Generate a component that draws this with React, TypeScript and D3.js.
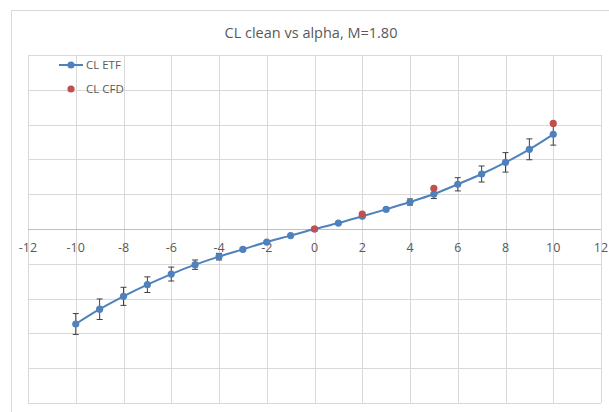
import React from "react";
import * as d3 from "d3";

const alpha = [-10, -9, -8, -7, -6, -5, -4, -3, -2, -1, 0, 1, 2, 3, 4, 5, 6, 7, 8, 9, 10];
const clEtf = [-0.546, -0.461, -0.387, -0.32, -0.259, -0.205, -0.159, -0.117, -0.075, -0.038, 0, 0.034, 0.073, 0.113, 0.155, 0.201, 0.257, 0.316, 0.383, 0.458, 0.544];
const clEtfErr = [0.06, 0.059, 0.052, 0.045, 0.04, 0.027, 0.019, 0.01, 0.005, 0.003, 0, 0.003, 0.005, 0.01, 0.018, 0.026, 0.038, 0.046, 0.056, 0.06, 0.062];
const cfdAlpha = [0, 2, 5, 10];
const clCfd = [0, 0.086, 0.234, 0.607];
const xTicks = [-12, -10, -8, -6, -4, -2, 0, 2, 4, 6, 8, 10, 12];
const yTicks = [-1, -0.8, -0.6, -0.4, -0.2, 0, 0.2, 0.4, 0.6, 0.8, 1];
const title = "CL clean vs alpha, M=1.80";
const seriesNames = ["CL ETF", "CL CFD"];

const W = 609;
const H = 412;
const plot = { left: 28, right: 601, top: 55, bottom: 403 };
const BLUE = "#4F81BD";
const RED = "#C0504D";
const GRID = "#d9d9d9";
const TEXT = "#595959";
const FONT = "'Open Sans', sans-serif";

export default function App() {
  const x = d3.scaleLinear().domain([-12, 12]).range([plot.left, plot.right]);
  const y = d3.scaleLinear().domain([-1, 1]).range([plot.bottom, plot.top]);
  const etf = alpha.map((a, i) => ({ a, v: clEtf[i], e: clEtfErr[i] }));
  const cfd = cfdAlpha.map((a, i) => ({ a, v: clCfd[i] }));
  const line = d3
    .line<{ a: number; v: number }>()
    .x((d) => x(d.a))
    .y((d) => y(d.v))
    .curve(d3.curveCatmullRom.alpha(0.5));

  return (
    <svg
      width={W}
      height={H}
      style={{ position: "absolute", left: 0, top: 0, background: "#fff" }}
      fontFamily={FONT}
    >
      <rect x={11.5} y={10.5} width={W} height={H} fill="#fff" stroke={GRID} />
      <text x={311} y={38} textAnchor="middle" fontSize={14.5} fill={TEXT}>
        {title}
      </text>
      {yTicks.map((t) => (
        <line key={"h" + t} x1={plot.left} x2={plot.right} y1={Math.round(y(t)) + 0.5} y2={Math.round(y(t)) + 0.5} stroke={GRID} />
      ))}
      {xTicks.map((t) => (
        <line key={"v" + t} x1={Math.round(x(t)) + 0.5} x2={Math.round(x(t)) + 0.5} y1={plot.top} y2={plot.bottom} stroke={GRID} />
      ))}
      <line x1={plot.left} x2={plot.right} y1={Math.round(y(0)) + 0.5} y2={Math.round(y(0)) + 0.5} stroke="#bfbfbf" />
      {xTicks.map((t) => (
        <text key={"xl" + t} x={x(t)} y={y(0) + 23} textAnchor="middle" fontSize={12.5} fill={TEXT}>
          {t}
        </text>
      ))}
      <path d={line(etf) || ""} fill="none" stroke={BLUE} strokeWidth={2} />
      {etf.map((d) =>
        d.e > 0 ? (
          <g key={"e" + d.a} stroke="#404040" strokeWidth={1}>
            <line x1={x(d.a)} x2={x(d.a)} y1={y(d.v + d.e)} y2={y(d.v - d.e)} />
            <line x1={x(d.a) - 3} x2={x(d.a) + 3} y1={y(d.v + d.e)} y2={y(d.v + d.e)} />
            <line x1={x(d.a) - 3} x2={x(d.a) + 3} y1={y(d.v - d.e)} y2={y(d.v - d.e)} />
          </g>
        ) : null
      )}
      {etf.map((d) => (
        <circle key={"p" + d.a} cx={x(d.a)} cy={y(d.v)} r={3.6} fill={BLUE} />
      ))}
      {cfd.map((d) => (
        <circle key={"c" + d.a} cx={x(d.a)} cy={y(d.v)} r={3.6} fill={RED} />
      ))}
      <g>
        <line x1={59} x2={83} y1={65} y2={65} stroke={BLUE} strokeWidth={2} />
        <circle cx={71} cy={65} r={3.6} fill={BLUE} />
        <text x={86} y={69} fontSize={11.5} fill={TEXT}>
          {seriesNames[0]}
        </text>
        <circle cx={71} cy={89} r={3.6} fill={RED} />
        <text x={86} y={93} fontSize={11.5} fill={TEXT}>
          {seriesNames[1]}
        </text>
      </g>
    </svg>
  );
}
